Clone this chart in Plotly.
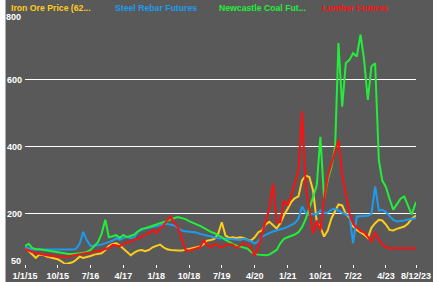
import pandas as pd
import plotly.graph_objects as go

# Monthly observation dates (indexed series, 1/1/2015 = 100)
dates = [d.strftime("%Y-%m-%d") for d in pd.date_range("2015-01-01", periods=107, freq="MS")] + ["2023-12-08"]

iron_ore = [
    100, 88, 80, 68, 78, 78, 72, 70, 68, 64, 58, 50,
    52, 55, 62, 72, 68, 70, 74, 78, 80, 82, 92, 104,
    110, 112, 106, 96, 85, 76, 84, 90, 92, 88, 92, 100,
    104, 108, 100, 94, 92, 90, 90, 90, 92, 95, 97, 98,
    102, 110, 120, 122, 125, 140, 175, 135, 128, 130, 128, 130,
    128, 122, 120, 130, 145, 150, 168, 176, 166, 156, 172, 196,
    215, 236, 246, 252, 300, 314, 310, 270, 176, 160, 132, 150,
    186, 210, 228, 225, 200, 188, 162, 152, 145, 138, 128, 158,
    172, 182, 180, 168, 152, 150, 155, 158, 162, 170, 185, 195,
]
steel_rebar = [
    100, 96, 94, 93, 93, 93, 93, 93, 93, 93, 92, 92,
    92, 93, 95, 110, 146, 120, 104, 104, 106, 108, 112, 116,
    120, 127, 122, 128, 132, 127, 130, 146, 152, 157, 158, 160,
    162, 165, 168, 170, 167, 165, 158, 150, 148, 147, 146, 144,
    140, 137, 135, 131, 128, 127, 127, 126, 124, 123, 122, 122,
    125, 122, 118, 111, 118, 132, 138, 142, 147, 150, 152, 157,
    161, 166, 172, 185, 222, 202, 196, 200, 198, 210, 202, 204,
    212, 215, 210, 202, 198, 194, 112, 192, 192, 193, 194, 200,
    282, 210, 212, 205, 192, 182, 177, 178, 180, 183, 185, 187,
]
newcastle_coal = [
    103, 110, 98, 94, 94, 92, 90, 90, 88, 86, 84, 82,
    80, 80, 80, 82, 84, 86, 92, 102, 115, 140, 182, 130,
    133, 136, 128, 137, 130, 134, 138, 148, 155, 157, 160, 165,
    168, 172, 175, 178, 184, 188, 190, 187, 184, 178, 174, 168,
    164, 158, 152, 146, 142, 137, 130, 122, 115, 110, 105, 102,
    100, 96, 86, 80, 78, 76, 76, 78, 84, 92, 112, 125,
    130, 134, 138, 145, 160, 185, 215, 250, 285, 430, 245, 300,
    340, 400, 710, 520, 650, 660, 680, 670, 735, 660, 540, 640,
    650, 360, 300, 280, 245, 212, 228, 245, 252, 225, 198, 235,
]
lumber = [
    95, 90, 86, 83, 80, 78, 76, 75, 74, 72, 71, 72,
    73, 75, 78, 80, 83, 85, 86, 87, 88, 90, 95, 98,
    107, 104, 103, 110, 113, 117, 122, 127, 130, 135, 142, 152,
    142, 157, 165, 180, 192, 172, 160, 125, 92, 90, 94, 98,
    100, 120, 107, 100, 110, 104, 100, 106, 110, 108, 98, 106,
    112, 108, 100, 74, 100, 140, 175, 215, 290, 175, 175, 240,
    225, 255, 290, 330, 506, 280, 215, 141, 180, 150, 245, 310,
    350, 390, 420, 315, 262, 200, 170, 158, 148, 145, 130, 118,
    145, 122, 110, 100, 97, 97, 97, 97, 97, 97, 97, 97,
]

series_names = ["Iron Ore Price (62...", "Steel Rebar Futures", "Newcastle Coal Fut...", "Lumber Futures"]
series_colors = ["#FFCC1A", "#1E9BEF", "#22EE3A", "#FF1010"]

tick_dates = ["2015-01-01", "2015-10-01", "2016-07-01", "2017-04-01", "2018-01-01", "2018-10-01",
              "2019-07-01", "2020-04-01", "2021-01-01", "2021-10-01", "2022-07-01", "2023-04-01", "2023-12-08"]
tick_text = ["1/1/15", "10/15", "7/16", "4/17", "1/18", "10/18", "7/19", "4/20", "1/21", "10/21", "7/22", "4/23", "8/12/23"]
y_grid_ticks = [200, 400, 600]
y_edge_labels = ["50", "800"]

BG = "#595959"
FONT = "Liberation Sans"

fig = go.Figure()
for vals, name, col in zip([iron_ore, steel_rebar, newcastle_coal, lumber], series_names, series_colors):
    fig.add_trace(go.Scatter(x=dates, y=vals, mode="lines", name=name,
                             line=dict(color=col, width=2), showlegend=False))

W, H = 445, 282
L, R, T, B = 25, 29, 13, 18
pw, ph = W - L - R, H - T - B

def px_x(p):
    return (p - L) / pw

def px_y(p):
    return (H - B - p) / ph

# white border strips at the left and right edges
fig.add_shape(type="rect", xref="paper", yref="paper", x0=px_x(-2), x1=px_x(5.5), y0=px_y(H + 2), y1=px_y(-2),
              fillcolor="white", line_width=0, layer="below")
fig.add_shape(type="rect", xref="paper", yref="paper", x0=px_x(433), x1=px_x(W + 2), y0=px_y(H + 2), y1=px_y(-2),
              fillcolor="white", line_width=0, layer="below")

legend_x = [9, 113, 217, 320]
for name, col, lx in zip(series_names, series_colors, legend_x):
    fig.add_annotation(text=name, xref="paper", yref="paper", x=px_x(lx), y=px_y(7.5),
                       xanchor="left", yanchor="middle", showarrow=False,
                       font=dict(family=FONT, size=8.7, color=col, weight="bold"))

# edge labels of the value axis sit just inside the plot range, as in the original
for txt, py in zip(y_edge_labels, [261, 17]):
    fig.add_annotation(text=txt, xref="paper", yref="paper", x=px_x(22.5), y=px_y(py),
                       xanchor="right", yanchor="middle", showarrow=False,
                       font=dict(family=FONT, size=9, color="white", weight="bold"))

fig.update_layout(
    width=W, height=H,
    margin=dict(l=L, r=R, t=T, b=B, pad=0, autoexpand=False),
    paper_bgcolor=BG, plot_bgcolor=BG,
    font=dict(family=FONT, color="white"),
    xaxis=dict(type="date", range=["2015-01-01", "2023-12-08"], tickvals=tick_dates, ticktext=tick_text,
               automargin=False, showgrid=False, zeroline=False, showline=False,
               ticks="outside", ticklen=3, tickcolor="white", tickwidth=1,
               tickfont=dict(family=FONT, size=9, color="white", weight="bold")),
    yaxis=dict(range=[50, 800], tickvals=y_grid_ticks, ticktext=[str(v) for v in y_grid_ticks],
               automargin=False, showgrid=True, gridcolor="white", gridwidth=1, zeroline=False, showline=False,
               ticks="", ticklabelstandoff=2,
               tickfont=dict(family=FONT, size=9, color="white", weight="bold")),
)

fig.write_html("out.html")
